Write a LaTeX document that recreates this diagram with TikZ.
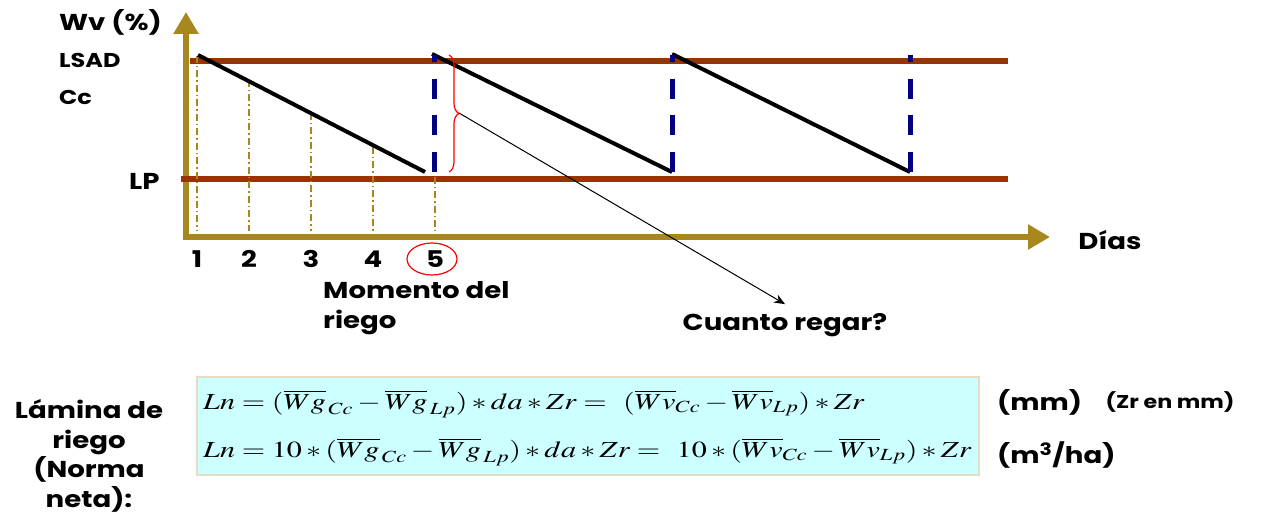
\documentclass[tikz,border=0pt]{standalone}
\usepackage[no-math]{fontspec}
\usepackage{mathptmx}
\usepackage{graphicx}
\setmainfont{Poppins}[FakeStretch=1.2]
\usetikzlibrary{arrows.meta,decorations.pathreplacing,positioning}
\definecolor{axisgold}{HTML}{A8881E}
\definecolor{limitbrown}{HTML}{993300}
\definecolor{irrigblue}{HTML}{000080}
\definecolor{boxcyan}{HTML}{CCFFFF}
\definecolor{boxedge}{HTML}{E6DCC4}
\newcommand{\stretchx}[1]{\scalebox{1.31}[1]{#1}}
\tikzset{
  axis/.style={draw=axisgold,line width=6pt,-{Triangle[width=24pt,length=22pt]}},
  limit/.style={draw=limitbrown,line width=6pt},
  daytick/.style={draw=axisgold,line width=1.5pt,dash pattern=on 7pt off 3pt on 1.5pt off 3pt},
  saw/.style={draw=black,line width=4pt},
  irrig/.style={draw=irrigblue,line width=5pt,dash pattern=on 20pt off 16.5pt},
  brace/.style={draw=red,line width=1.2pt,decorate,decoration={brace,amplitude=10pt}},
  pointer/.style={-{Stealth[length=11pt,width=9pt]},line width=1pt},
  lbl/.style={font=\fontsize{23}{29.5}\selectfont\bfseries,inner sep=1pt},
  smalllbl/.style={font=\fontsize{20}{22}\selectfont\bfseries,inner sep=1pt},
  formbox/.style={draw=boxedge,fill=boxcyan,line width=1.5pt},
  formula/.style={font=\fontsize{23}{26}\selectfont,inner sep=0pt},
}
\begin{document}
\begin{tikzpicture}[x=1pt,y=-1pt]
  \useasboundingbox (0,0) rectangle (1261,513);
  % axes and limits
  \draw[axis] (186,240) -- (186,12);
  \draw[axis] (183,237) -- (1050,237);
  \draw[limit] (190,61) -- (1008,61);
  \draw[limit] (181,179) -- (1008,179);
  \node[lbl,anchor=west] (wv) at (58,22) {Wv (\%)};
  \node[smalllbl,anchor=west] (lsad) at (58,60) {LSAD};
  \node[smalllbl,anchor=west] (cc) at (58,97) {Cc};
  \node[lbl,anchor=west] (lp) at (128,181) {LP};
  \node[lbl] (dias) at (1110,240) {Días};
  % days
  \foreach \d/\x/\t in {1/197/56,2/249/80,3/311/113,4/373/147,5/435/177}{
    \draw[daytick] (\x,\t) -- (\x,231);
    \node[lbl] (n\d) at (\x,259) {\d};
  }
  \draw[red,line width=1.2pt] ([xshift=-3pt]n5) ellipse [x radius=25pt,y radius=16pt];
  % moisture
  \draw[saw] (198,55) -- (425,172);
  \draw[saw] (432,54) -- (672,172);
  \draw[saw] (672,54) -- (910,172);
  \foreach \x in {434,672,910}
    \draw[irrig] (\x,172) -- (\x,55);
  \draw[brace] (449,55) -- (449,172);
  \coordinate (bracetip) at (459,113);
  \node[lbl,align=left,anchor=west] (momento) at (322,308) {Momento del\\riego};
  \node[lbl] (cuanto) at (785,325) {Cuanto regar?};
  \draw[pointer] (bracetip) -- ([yshift=8pt]cuanto.north);
  % formulas
  \node[formbox,minimum width=782pt,minimum height=98pt,anchor=north west] (box) at (196,376) {};
  \node[formula,anchor=west] (f1) at (203,404)
    {\stretchx{$Ln=(\overline{Wg}_{\,Cc}-\overline{Wg}_{\,Lp})*da*Zr=\ (\overline{Wv}_{Cc}-\overline{Wv}_{Lp})*Zr$}};
  \node[formula,anchor=west] (f2) at (203,452)
    {\stretchx{$Ln=10*(\overline{Wg}_{\,Cc}-\overline{Wg}_{\,Lp})*da*Zr=\ 10*(\overline{Wv}_{Cc}-\overline{Wv}_{Lp})*Zr$}};
  \node[lbl,anchor=west] (mm) at (996,402) {(mm)};
  \node[font=\fontsize{18.5}{19}\selectfont\bfseries,anchor=west] (zr) at (1102,402) {(Zr en mm)};
  \node[lbl,anchor=west] (m3) at (996,455) {(m\textsuperscript{3}/ha)};
  \node[lbl,align=center] (lamina) at (89,456) {Lámina de\\riego\\(Norma\\neta):};
\end{tikzpicture}
\end{document}
